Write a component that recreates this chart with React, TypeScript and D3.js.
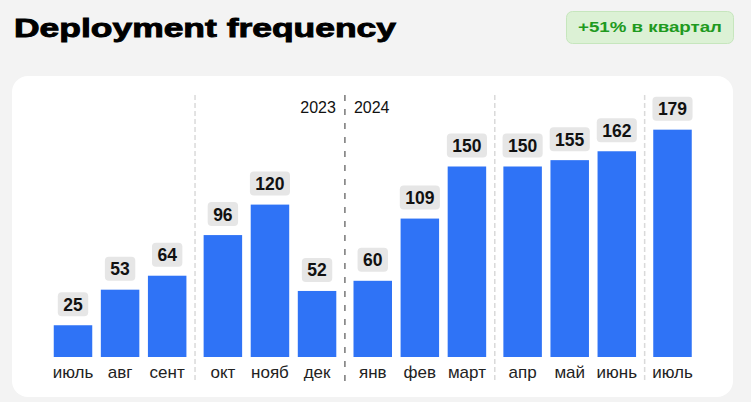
import React from "react";
import * as d3 from "d3";

const months = ["июль", "авг", "сент", "окт", "нояб", "дек", "янв", "фев", "март", "апр", "май", "июнь", "июль"];
const values = [25, 53, 64, 96, 120, 52, 60, 109, 150, 150, 155, 162, 179];
const quarters = [0, 0, 0, 1, 1, 1, 2, 2, 2, 3, 3, 3, 4];
const yearLabels = ["2023", "2024"];
const yearBreakIndex = 6;
const title = "Deployment frequency";
const badge = "+51% в квартал";

const W = 751;
const H = 402;
const GAP = 0.183;

export default function App() {
  React.useEffect(() => {
    document.body.style.margin = "0";
  }, []);

  const slot = (i: number) => i + quarters[i] * GAP;
  const x = d3
    .scaleLinear()
    .domain([0, slot(values.length - 1)])
    .range([73, 672.5]);
  const y = d3.scaleLinear().domain([0, 200]).range([357, 103]);
  const barW = 38.5;

  const seps: { x: number; dark: boolean }[] = [];
  for (let i = 1; i < values.length; i++) {
    if (quarters[i] !== quarters[i - 1]) {
      seps.push({ x: (x(slot(i)) + x(slot(i - 1))) / 2, dark: i === yearBreakIndex });
    }
  }
  const yearX = seps.find((s) => s.dark)!.x;

  const font = "'Liberation Sans', Arial, sans-serif";

  return (
    <svg width={W} height={H} style={{ display: "block" }} fontFamily={font}>
      <rect x={0} y={0} width={W} height={H} fill="#f3f3f3" />
      <text
        x={14}
        y={37}
        fontSize={26}
        fontWeight={700}
        fill="#000"
        stroke="#000"
        strokeWidth={0.9}
        textLength={382}
        lengthAdjust="spacingAndGlyphs"
      >
        {title}
      </text>
      <rect x={566.5} y={11.5} width={167} height={32} rx={6} fill="#dcf1d5" stroke="#c6e6bd" strokeWidth={1} />
      <text
        x={578}
        y={32}
        fontSize={15.5}
        fontWeight={700}
        fill="#1f9a1f"
        textLength={144}
        lengthAdjust="spacingAndGlyphs"
      >
        {badge}
      </text>

      <rect x={12} y={76} width={721} height={321} rx={16} fill="#ffffff" />

      {seps.map((s, k) => (
        <line
          key={k}
          x1={s.x}
          x2={s.x}
          y1={95}
          y2={383}
          stroke={s.dark ? "#777" : "#dadada"}
          strokeWidth={1.5}
          strokeDasharray={s.dark ? "6,8" : "5,3"}
        />
      ))}
      <text x={yearX - 9} y={113} fontSize={16} textAnchor="end" fill="#111">
        {yearLabels[0]}
      </text>
      <text x={yearX + 9} y={113} fontSize={16} textAnchor="start" fill="#111">
        {yearLabels[1]}
      </text>

      {values.map((v, i) => {
        const cx = x(slot(i));
        const top = y(v);
        const label = String(v);
        const bw = label.length * 9.7 + 11;
        return (
          <g key={i}>
            <rect x={cx - barW / 2} y={top} width={barW} height={y(0) - top} fill="#2f73f6" />
            <rect x={cx - bw / 2} y={top - 33} width={bw} height={24} rx={4} fill="#e6e6e6" />
            <text x={cx} y={top - 14.5} fontSize={17.5} fontWeight={700} textAnchor="middle" fill="#111">
              {label}
            </text>
            <text x={cx} y={378} fontSize={17} textAnchor="middle" fill="#222">
              {months[i]}
            </text>
          </g>
        );
      })}
    </svg>
  );
}
